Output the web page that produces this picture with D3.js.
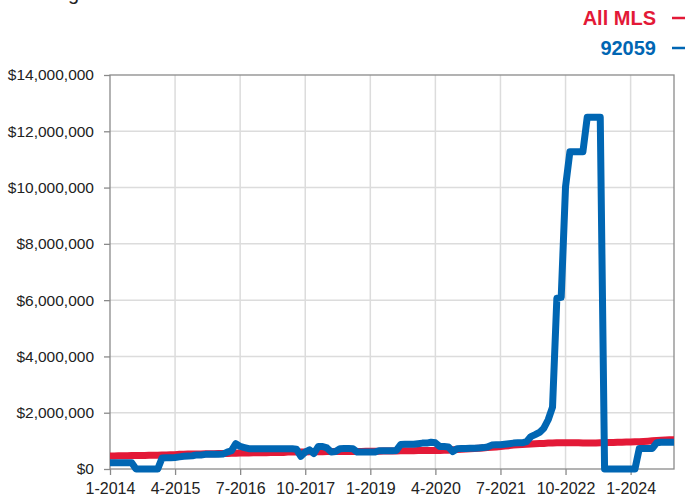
<!DOCTYPE html>
<html>
<head>
<meta charset="utf-8">
<script src="https://cdn.jsdelivr.net/npm/d3@7"></script>
<style>
  body { margin: 0; background: #fff; }
  svg { display: block; font-family: "Liberation Sans", Arial, Helvetica, sans-serif; }
</style>
</head>
<body>
<div id="chart"></div>
<script>
// monthly values, Jan 2014 .. Nov 2024, in $ millions
const tickLabels = ["1-2014", "4-2015", "7-2016", "10-2017", "1-2019", "4-2020", "7-2021", "10-2022", "1-2024"];
const tickIdx = [0, 15, 30, 45, 60, 75, 90, 105, 120];
const yTicks = [0, 2, 4, 6, 8, 10, 12, 14];

const allMls = [
  0.46,0.46,0.47,0.47,0.47,0.48,0.48,0.48,0.48,0.49,0.49,0.49,0.50,0.50,0.51,
  0.51,0.52,0.52,0.53,0.53,0.53,0.53,0.54,0.54,0.54,0.55,0.55,0.55,0.56,0.56,
  0.57,0.57,0.57,0.58,0.58,0.58,0.58,0.59,0.59,0.59,0.59,0.60,0.60,0.60,0.60,
  0.60,0.61,0.61,0.61,0.61,0.62,0.62,0.62,0.62,0.62,0.62,0.62,0.62,0.62,0.63,
  0.63,0.63,0.63,0.64,0.64,0.64,0.64,0.65,0.65,0.65,0.65,0.66,0.66,0.66,0.66,
  0.66,0.66,0.67,0.67,0.68,0.69,0.70,0.71,0.72,0.73,0.74,0.75,0.76,0.77,0.78,
  0.80,0.82,0.83,0.85,0.86,0.87,0.88,0.89,0.90,0.91,0.91,0.92,0.92,0.93,0.93,
  0.93,0.93,0.93,0.93,0.92,0.92,0.92,0.92,0.93,0.93,0.94,0.94,0.95,0.95,0.96,
  0.96,0.97,0.97,0.98,0.99,1.00,1.01,1.02,1.03,1.04,1.04
];

const zip92059 = [
  0.22,0.22,0.22,0.22,0.22,0.22,
  0,0,0,0,0,0,
  0.39,0.40,0.40,0.41,0.43,0.45,0.46,0.47,
  0.50,0.50,0.52,0.52,0.52,0.52,0.53,
  0.60,0.65,0.90,0.80,0.76,
  0.72,0.72,0.72,0.72,0.72,0.72,0.72,0.72,0.72,0.72,0.72,
  0.70,0.45,0.60,0.68,0.55,0.80,0.80,0.75,0.60,0.62,0.72,0.73,0.73,0.72,
  0.60,0.60,0.60,0.60,0.60,0.65,0.65,0.65,0.65,0.66,
  0.87,0.88,0.88,0.88,0.90,0.92,0.92,0.95,0.93,0.80,0.80,0.78,0.62,
  0.72,0.73,0.73,0.74,0.74,0.75,0.76,0.78,0.85,0.86,0.86,0.88,0.90,0.92,0.93,0.93,
  0.97,1.15,1.22,1.30,1.45,1.75,2.20,6.07,6.10,10.03,11.27,11.27,11.27,11.27,12.5,12.5,12.5,12.5,
  0,0,0,0,0,0,0,0,
  0.73,0.73,0.73,0.73,
  0.93,0.95,0.95,0.95,0.95
];

const series = [
  { name: "All MLS", values: allMls, color: "#e31937" },
  { name: "92059", values: zip92059, color: "#0066b3" }
];

const W = 688, H = 497;
const mLeft = 110, mRight = 674, mTop = 75, mBottom = 469;

const svg = d3.select("#chart").append("svg").attr("width", W).attr("height", H);

const x = d3.scaleLinear().domain([0, allMls.length - 1]).range([mLeft, mRight]);
const y = d3.scaleLinear().domain([0, 14]).range([mBottom, mTop]);

// title, mostly cut off at the top edge (as in the source image)
svg.append("text").attr("x", 18).attr("y", -0.5)
  .attr("font-size", 20).attr("fill", "#222")
  .text("Rolling 12-Month Calculation");

// grid
svg.append("g").selectAll("line").data(yTicks.slice(1, -1)).enter().append("line")
  .attr("x1", mLeft).attr("x2", mRight).attr("y1", d => y(d)).attr("y2", d => y(d))
  .attr("stroke", "#dcdcdc").attr("stroke-width", 1.5);
svg.append("g").selectAll("line").data(tickIdx.slice(1)).enter().append("line")
  .attr("x1", d => x(d)).attr("x2", d => x(d)).attr("y1", mTop).attr("y2", mBottom)
  .attr("stroke", "#dcdcdc").attr("stroke-width", 1.5);

// frame
svg.append("rect").attr("x", mLeft).attr("y", mTop).attr("width", mRight - mLeft).attr("height", mBottom - mTop)
  .attr("fill", "none").attr("stroke", "#8a8a8a").attr("stroke-width", 1.3);

// y axis
const yAxis = svg.append("g").attr("transform", `translate(${mLeft},0)`)
  .call(d3.axisLeft(y).tickValues(yTicks).tickSize(6).tickPadding(10)
    .tickFormat(d => "$" + d3.format(",")(d * 1e6)));
yAxis.select(".domain").remove();
yAxis.selectAll(".tick line").attr("stroke", "#8a8a8a").attr("stroke-width", 1.3);
yAxis.selectAll("text").attr("font-size", 15.5).attr("fill", "#222")
  .attr("font-family", "'Liberation Sans', Arial, sans-serif");

// x axis
const xAxis = svg.append("g").attr("transform", `translate(0,${mBottom})`)
  .call(d3.axisBottom(x).tickValues(tickIdx).tickSize(6).tickPadding(8)
    .tickFormat((d, i) => tickLabels[i]));
xAxis.select(".domain").remove();
xAxis.selectAll(".tick line").attr("stroke", "#8a8a8a").attr("stroke-width", 1.3);
xAxis.selectAll("text").attr("font-size", 16).attr("fill", "#222")
  .attr("font-family", "'Liberation Sans', Arial, sans-serif");

// lines
const line = d3.line().x((d, i) => x(i)).y(d => y(d));
series.forEach(s => {
  svg.append("path").datum(s.values)
    .attr("d", line)
    .attr("fill", "none")
    .attr("stroke", s.color)
    .attr("stroke-width", 7)
    .attr("stroke-linejoin", "round")
    .attr("stroke-linecap", "butt");
});

// legend
const legend = svg.append("g");
series.forEach((s, i) => {
  const ly = 25 + i * 30;
  legend.append("text").attr("x", 656).attr("y", ly)
    .attr("text-anchor", "end").attr("font-size", 20).attr("font-weight", "bold")
    .attr("fill", s.color).text(s.name);
  legend.append("line").attr("x1", 672).attr("x2", 685)
    .attr("y1", ly - 7).attr("y2", ly - 7)
    .attr("stroke", s.color).attr("stroke-width", 2.5);
});
</script>
</body>
</html>
